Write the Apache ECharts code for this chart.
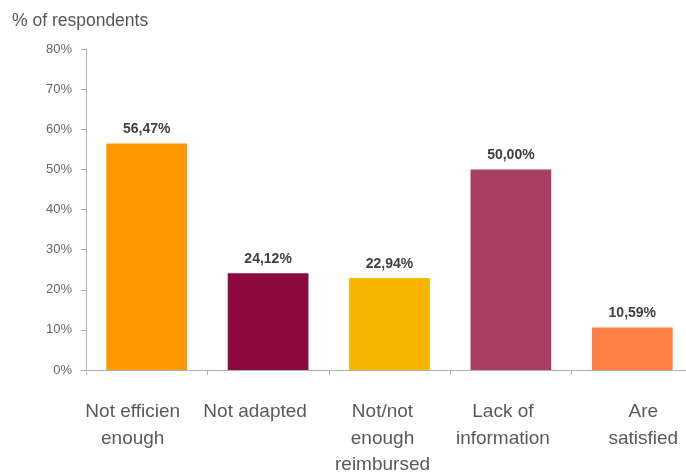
<!DOCTYPE html>
<html><head><meta charset="utf-8">
<script src="https://cdn.jsdelivr.net/npm/echarts@6/dist/echarts.min.js"></script>
<style>html,body{margin:0;padding:0;background:#fff}#c{width:686px;height:473px}</style>
</head><body><div id="c"></div>
<script>
const categories = ["Not efficien\nenough", "Not adapted", "Not/not\nenough\nreimbursed", "Lack of\ninformation", "Are\nsatisfied"];
const values = [56.47, 24.12, 22.94, 50.00, 10.59];
const colors = ["#FF9900", "#8C0A40", "#F7B500", "#A83E62", "#FF7F45"];
const labelShifts = [-14, -13, -7, -8, 11];
const yTicks = [0, 10, 20, 30, 40, 50, 60, 70, 80];

const chart = echarts.init(document.getElementById('c'));
chart.setOption({
  animation: false,
  title: { text: "% of respondents", left: 7, top: 7,
    textStyle: { fontFamily: "Liberation Sans", fontSize: 17.5, fontWeight: "normal", color: "#555" } },
  grid: { left: 86, right: -7, top: 49, bottom: 103, containLabel: false, outerBoundsMode: "none" },
  xAxis: {
    type: "category",
    data: categories.map((c, i) => ({ value: c, textStyle: { padding: labelShifts[i] < 0 ? [0, -2*labelShifts[i], 0, 0] : [0, 0, 0, 2*labelShifts[i]] } })),
    axisLine: { lineStyle: { color: "#B0B0B0" } },
    axisTick: { show: true, length: 5, lineStyle: { color: "#B0B0B0" } },
    axisLabel: { interval: 0, margin: 29, fontFamily: "Liberation Sans", fontSize: 19, color: "#595959", lineHeight: 26.5 }
  },
  yAxis: {
    type: "value", min: 0, max: 80, interval: 10,
    axisLine: { show: true, lineStyle: { color: "#B0B0B0" } },
    axisTick: { show: true, length: 5, lineStyle: { color: "#B0B0B0" } },
    splitLine: { show: false },
    axisLabel: { margin: 14, fontFamily: "Liberation Sans", fontSize: 13, fontWeight: "normal", color: "#666",
      formatter: v => v + "%" }
  },
  series: [{
    type: "bar",
    barWidth: "66.5%",
    data: values.map((v, i) => ({ value: v, itemStyle: { color: colors[i] } })),
    label: { show: true, position: "top", distance: 7, fontFamily: "Liberation Sans", fontSize: 14, fontWeight: "bold",
      color: "#404040", formatter: p => p.value.toFixed(2).replace(".", ",") + "%" }
  }]
});
</script></body></html>
